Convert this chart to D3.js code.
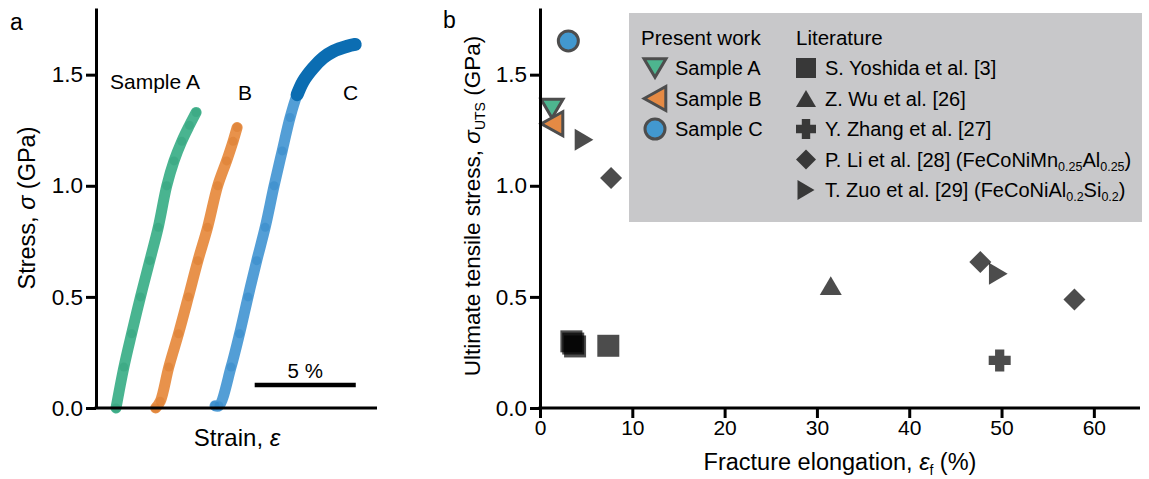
<!DOCTYPE html>
<html><head><meta charset="utf-8">
<script src="https://cdn.jsdelivr.net/npm/d3@7"></script>
<style>
body{margin:0;background:#fff}
svg{display:block}
text{font-family:"Liberation Sans",Arial,Helvetica,sans-serif;fill:#000}
</style>
</head><body><svg id="c" width="1149" height="479"></svg>
<script>
// ---------- data ----------
const stressTicks = [0, 0.5, 1.0, 1.5];
const elongTicks = [0, 10, 20, 30, 40, 50, 60];

// panel a: stress-strain curves (strain %, stress GPa)
const strainA = [0.99, 1.38, 1.76, 2.20, 2.66, 3.08, 3.50, 3.86, 4.24, 4.62, 4.95];
const stressA = [0.00, 0.184, 0.334, 0.50, 0.663, 0.813, 1.00, 1.112, 1.20, 1.272, 1.33];
const strainB = [2.95, 3.18, 3.60, 4.08, 4.57, 5.04, 5.52, 6.02, 6.46, 6.78, 6.98];
const stressB = [0.00, 0.03, 0.184, 0.334, 0.50, 0.663, 0.813, 1.00, 1.112, 1.20, 1.262];
const strainC = [5.89, 6.08, 6.68, 7.10, 7.52, 7.95, 8.37, 8.81, 9.21, 9.60, 9.95, 10.25, 10.74, 11.24, 11.73, 12.43, 12.82];
const stressC = [0.01, 0.01, 0.184, 0.334, 0.50, 0.663, 0.813, 1.00, 1.157, 1.307, 1.41, 1.47, 1.53, 1.576, 1.605, 1.628, 1.636];

// panel b: present work
const presentNames = ["Sample A", "Sample B", "Sample C"];
const presentElong = [1.3, 1.3, 3.07];
const presentUTS = [1.347, 1.279, 1.652];

// panel b: literature
const yoshidaElong = [3.4, 3.6, 3.8, 7.4];
const yoshidaUTS = [0.30, 0.29, 0.277, 0.28];
const wuElong = [31.5];
const wuUTS = [0.551];
const zhangElong = [49.8];
const zhangUTS = [0.214];
const liElong = [7.7, 47.7, 57.9];
const liUTS = [1.035, 0.657, 0.488];
const zuoElong = [4.77, 49.65];
const zuoUTS = [1.207, 0.604];

// ---------- helpers ----------
const svg = d3.select("#c");
const FONT = '"Liberation Sans",Arial,Helvetica,sans-serif';

function sym(type, s) { // s = half size
  switch (type) {
    case "down": return `M${-s},${-s*0.85}L${s},${-s*0.85}L0,${s*0.85}Z`;
    case "left": return `M${-s*0.9},0L${s*0.9},${-s}L${s*0.9},${s}Z`;
    case "right": return `M${s*0.85},0L${-s*0.85},${-s}L${-s*0.85},${s}Z`;
    case "up": return `M0,${-s*0.85}L${s},${s*0.85}L${-s},${s*0.85}Z`;
    case "square": return `M${-s},${-s}H${s}V${s}H${-s}Z`;
    case "diamond": return `M0,${-s}L${s},0L0,${s}L${-s},0Z`;
    case "cross": { const a = s*0.42; return `M${-a},${-s}H${a}V${-a}H${s}V${a}H${a}V${s}H${-a}V${a}H${-s}V${-a}H${-a}Z`; }
    case "circle": return d3.arc()({innerRadius:0, outerRadius:s, startAngle:0, endAngle:2*Math.PI});
  }
}

function styleAxis(g, fs) {
  g.select(".domain").attr("stroke", "#000").attr("stroke-width", 3);
  g.selectAll(".tick line").attr("stroke", "#000").attr("stroke-width", 3);
  g.selectAll(".tick text").attr("font-family", FONT).attr("font-size", fs).attr("fill", "#000");
}

// ---------- panel a ----------
const xa = d3.scaleLinear().domain([0, 13.9]).range([96, 377]);
const ya = d3.scaleLinear().domain([0, 1.8]).range([408, 8]);

const gA = svg.append("g");
gA.append("text").attr("x", 10).attr("y", 30).attr("font-size", 23).text("a");

const curves = [
  {x: strainA, y: stressA, c: "#3aae87", dk: "#23976f"},
  {x: strainB, y: stressB, c: "#e6893c", dk: "#d06e1d"},
  {x: strainC, y: stressC, c: "#4496d2", dk: "#1f7cc0"}
];
const line = d3.line().x(d => xa(d[0])).y(d => ya(d[1])).curve(d3.curveCatmullRom);
curves.forEach(cv => {
  const pts = cv.x.map((v, i) => [v, cv.y[i]]);
  gA.append("path").attr("d", line(pts)).attr("fill", "none")
    .attr("stroke", cv.c).attr("stroke-width", 11).attr("stroke-linecap", "round")
    .attr("stroke-linejoin", "round").attr("opacity", 0.92);
  gA.selectAll(null).data(pts).enter().append("circle")
    .attr("cx", d => xa(d[0])).attr("cy", d => ya(d[1])).attr("r", 4.5)
    .attr("fill", cv.dk).attr("opacity", 0.3);
});
// dense (dark) top portion of curve C
{
  const top = strainC.map((v, i) => [v, stressC[i]]).filter(d => d[1] >= 1.41);
  gA.append("path").attr("d", line(top)).attr("fill", "none")
    .attr("stroke", "#0b6db2").attr("stroke-width", 13).attr("stroke-linecap", "round")
    .attr("stroke-linejoin", "round");
}

const axA_y = gA.append("g").attr("transform", "translate(96,0)")
  .call(d3.axisLeft(ya).tickValues(stressTicks).tickFormat(d3.format(".1f")).tickSize(10).tickSizeOuter(0).tickPadding(3));
styleAxis(axA_y, 22.5);
const axA_x = gA.append("g").attr("transform", "translate(0,408)")
  .call(d3.axisBottom(xa).tickValues([]).tickSizeOuter(0));
styleAxis(axA_x, 22);
axA_x.select(".domain").attr("d", `M${xa.range()[0]-1.5},0H${xa.range()[1]}`);

gA.append("text").attr("transform", "translate(35,208) rotate(-90)").attr("text-anchor", "middle")
  .attr("font-size", 23.5).html('Stress, <tspan font-style="italic">σ</tspan> (GPa)');
gA.append("text").attr("x", 237).attr("y", 446).attr("text-anchor", "middle")
  .attr("font-size", 24).html('Strain, <tspan font-style="italic">ε</tspan>');

gA.append("text").attr("x", 110).attr("y", 89).attr("font-size", 21).text("Sample A");
gA.append("text").attr("x", 238).attr("y", 100).attr("font-size", 21).text("B");
gA.append("text").attr("x", 343).attr("y", 100).attr("font-size", 21).text("C");

// scale bar 5 %
gA.append("line").attr("x1", xa(7.85)).attr("x2", xa(7.85 + 5)).attr("y1", 385).attr("y2", 385)
  .attr("stroke", "#000").attr("stroke-width", 4.5);
gA.append("text").attr("x", xa(7.85 + 2.5)).attr("y", 378).attr("text-anchor", "middle")
  .attr("font-size", 20.5).text("5 %");

// ---------- panel b ----------
const xb = d3.scaleLinear().domain([0, 65]).range([540, 1140]);
const yb = d3.scaleLinear().domain([0, 1.8]).range([408, 8]);
const gB = svg.append("g");
gB.append("text").attr("x", 443).attr("y", 28).attr("font-size", 23).text("b");

// legend box
gB.append("rect").attr("x", 629).attr("y", 13).attr("width", 513).attr("height", 209).attr("fill", "#c8c8ca");

const lit = [
  {name: "S. Yoshida et al. [3]", x: yoshidaElong, y: yoshidaUTS, t: "square", s: 11},
  {name: "Z. Wu et al. [26]", x: wuElong, y: wuUTS, t: "up", s: 11},
  {name: "Y. Zhang et al. [27]", x: zhangElong, y: zhangUTS, t: "cross", s: 11},
  {name: "P. Li et al. [28]", x: liElong, y: liUTS, t: "diamond", s: 11},
  {name: "T. Zuo et al. [29]", x: zuoElong, y: zuoUTS, t: "right", s: 11}
];
lit.forEach(L => {
  L.x.forEach((v, i) => {
    gB.append("path").attr("d", sym(L.t, L.s))
      .attr("transform", `translate(${xb(v)},${yb(L.y[i])})`)
      .attr("fill", "#000").attr("fill-opacity", 0.7);
  });
});

const presentStyle = [
  {t: "down", s: 11, c: "#4db58f"},
  {t: "left", s: 12, c: "#e58a44"},
  {t: "circle", s: 10, c: "#4298cf"}
];
presentNames.forEach((n, i) => {
  const st = presentStyle[i];
  gB.append("path").attr("d", sym(st.t, st.s))
    .attr("transform", `translate(${xb(presentElong[i])},${yb(presentUTS[i])})`)
    .attr("fill", st.c).attr("stroke", "#4d4d4d").attr("stroke-width", 3).attr("stroke-linejoin", "miter");
});

const axB_y = gB.append("g").attr("transform", "translate(540,0)")
  .call(d3.axisLeft(yb).tickValues(stressTicks).tickFormat(d3.format(".1f")).tickSize(10).tickSizeOuter(0).tickPadding(3));
styleAxis(axB_y, 22.5);
const axB_x = gB.append("g").attr("transform", "translate(0,408)")
  .call(d3.axisBottom(xb).tickValues(elongTicks).tickFormat(d3.format("d")).tickSize(10).tickSizeOuter(0).tickPadding(2));
styleAxis(axB_x, 21);
axB_x.select(".domain").attr("d", `M${xb.range()[0]-1.5},0H${xb.range()[1]}`);

gB.append("text").attr("transform", "translate(480,206) rotate(-90)").attr("text-anchor", "middle")
  .attr("font-size", 22.5)
  .html('Ultimate tensile stress, <tspan font-style="italic">σ</tspan><tspan font-size="14" dy="5">UTS</tspan><tspan dy="-5"> (GPa)</tspan>');
gB.append("text").attr("x", 840).attr("y", 470).attr("text-anchor", "middle")
  .attr("font-size", 23.5)
  .html('Fracture elongation, <tspan font-style="italic">ε</tspan><tspan font-size="14" dy="5">f</tspan><tspan dy="-5"> (%)</tspan>');

// legend content
const lg = gB.append("g");
lg.append("text").attr("x", 641).attr("y", 45).attr("font-size", 20.5).text("Present work");
lg.append("text").attr("x", 796).attr("y", 45).attr("font-size", 20.5).text("Literature");
const rowY = [68, 98.5, 129, 159.5, 190];
presentNames.forEach((n, i) => {
  const st = presentStyle[i];
  lg.append("path").attr("d", sym(st.t, st.s))
    .attr("transform", `translate(655,${rowY[i]})`)
    .attr("fill", st.c).attr("stroke", "#4d4d4d").attr("stroke-width", 3);
  lg.append("text").attr("x", 675).attr("y", rowY[i] + 7).attr("font-size", 20).text(n);
});
const formulas = ['', '', '',
  ' (FeCoNiMn<tspan font-size="12.5" dy="4">0.25</tspan><tspan dy="-4">Al</tspan><tspan font-size="12.5" dy="4">0.25</tspan><tspan dy="-4">)</tspan>',
  ' (FeCoNiAl<tspan font-size="12.5" dy="4">0.2</tspan><tspan dy="-4">Si</tspan><tspan font-size="12.5" dy="4">0.2</tspan><tspan dy="-4">)</tspan>'];
lit.forEach((L, i) => {
  lg.append("path").attr("d", sym(L.t, 10))
    .attr("transform", `translate(806,${rowY[i]})`)
    .attr("fill", "#000").attr("fill-opacity", 0.72);
  lg.append("text").attr("x", 825).attr("y", rowY[i] + 7).attr("font-size", 20)
    .html(L.name + formulas[i]);
});
</script>
</body></html>
